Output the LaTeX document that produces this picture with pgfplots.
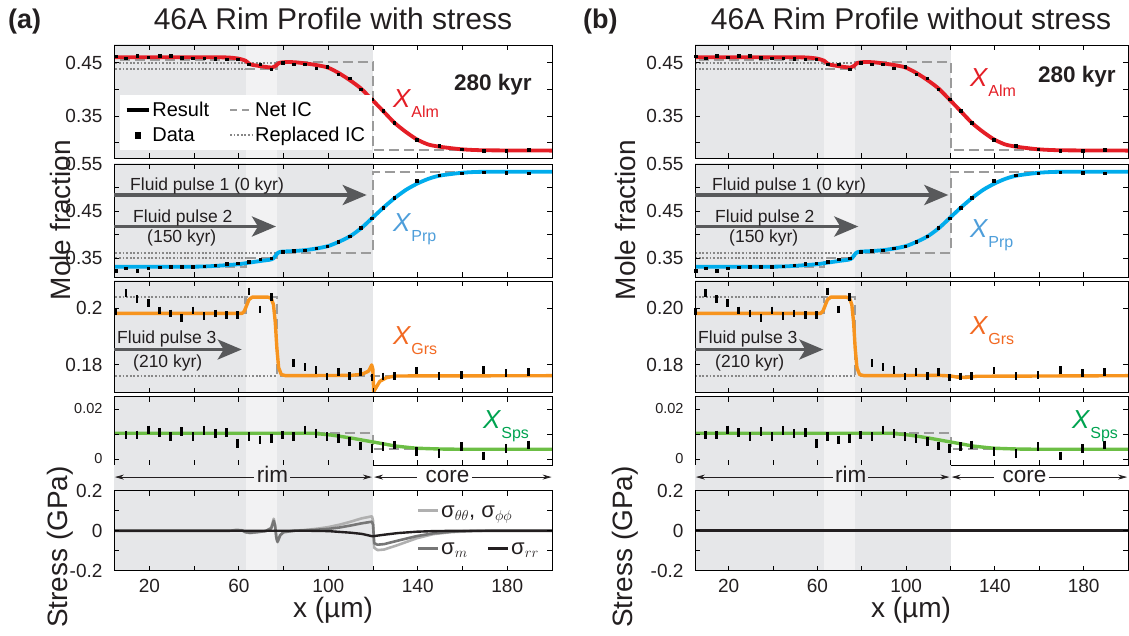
\documentclass[border=0pt]{standalone}
\usepackage{fontspec}
\setmainfont{Liberation Sans}
\usepackage{pgfplots}
\pgfplotsset{compat=1.18}
\usepackage{pgfplotstable}
\usetikzlibrary{arrows.meta}

\definecolor{almred}{RGB}{228,30,38}
\definecolor{prpcyan}{RGB}{0,172,236}
\definecolor{prplab}{RGB}{78,158,218}
\definecolor{grsorange}{RGB}{247,148,30}
\definecolor{grslab}{RGB}{242,105,34}
\definecolor{spsgreen}{RGB}{108,190,69}
\definecolor{spslab}{RGB}{0,163,80}
\definecolor{shA}{RGB}{230,231,233}
\definecolor{shB}{RGB}{242,242,243}
\definecolor{icgray}{RGB}{155,155,155}
\definecolor{dotgray}{RGB}{135,135,135}
\definecolor{arrowgray}{RGB}{88,89,91}
\definecolor{sthth}{RGB}{176,176,176}
\definecolor{smm}{RGB}{118,118,118}
\definecolor{txt}{RGB}{35,31,32}

\newcommand{\fTick}{\fontsize{19}{21}\selectfont}
\newcommand{\fSmall}{\fontsize{14.5}{16}\selectfont}
\newcommand{\fLab}{\fontsize{28}{30}\selectfont}
\newcommand{\fTitle}{\fontsize{30}{32}\selectfont}
\newcommand{\fLeg}{\fontsize{20}{22}\selectfont}
\newcommand{\fPulse}{\fontsize{17.5}{19}\selectfont}
\newcommand{\fRim}{\fontsize{22.5}{24}\selectfont}
\newcommand{\fKyr}{\fontsize{22.5}{24}\selectfont\bfseries}
\newcommand{\fSig}{\fontsize{22}{24}\selectfont}
\newcommand{\Xl}[2]{\textcolor{#1}{\fontsize{26}{28}\selectfont\textit{X}\raisebox{-10pt}{\fontsize{16}{18}\selectfont #2}}}

% ---------------- data ----------------
\pgfplotstableread{
x y
5 0.4620
9.5 0.4581
14.5 0.4631
19.5 0.4600
24.5 0.4625
29.5 0.4625
34.5 0.4594
39.5 0.4581
44.5 0.4581
49.5 0.4569
54.5 0.4562
59.5 0.4565
64.5 0.4475
69.5 0.4475
74.5 0.4381
79.5 0.4500
84.5 0.4475
89.5 0.4469
94.5 0.4394
99.5 0.4425
104.5 0.4282
109.5 0.4207
114.5 0.4001
119.5 0.3814
124.5 0.3595
129.5 0.3377
139.5 0.3052
149.5 0.2940
159.5 0.2878
169.5 0.2853
179.5 0.2853
189.5 0.2865
}\almdata

\pgfplotstableread{
x y
4 0.4600
50 0.4600
56 0.4595
60 0.4575
63 0.4537
65 0.4470
68 0.4445
72 0.4420
75 0.4410
76.5 0.4440
78 0.4495
81 0.4512
85 0.4508
89 0.4490
94 0.4460
99.5 0.4413
104.5 0.4310
109.5 0.4176
114.5 0.4020
119.5 0.3810
124.5 0.3595
129.5 0.3377
134.5 0.3208
139.5 0.3065
144.5 0.2970
149.5 0.2927
159.5 0.2878
170 0.2859
200 0.2853
}\almcurve

\pgfplotstableread{
x y
5 0.3240
9.5 0.3287
14.5 0.3238
19.5 0.3287
24.5 0.3308
29.5 0.3322
34.5 0.3322
39.5 0.3322
44.5 0.3336
49.5 0.3357
54.5 0.3379
59.5 0.3393
64.5 0.3428
69.5 0.3478
74.5 0.3499
79.5 0.3641
84.5 0.3655
89.5 0.3669
94.5 0.3711
99.5 0.3754
104.5 0.3853
109.5 0.3966
114.5 0.4150
119.5 0.4348
124.5 0.4574
129.5 0.4786
139.5 0.5147
149.5 0.5259
159.5 0.5309
169.5 0.5330
179.5 0.5316
189.5 0.5301
}\prpdata

\pgfplotstableread{
x y
4 0.3322
40 0.3322
50 0.3340
60 0.3375
65 0.3410
70 0.3445
74 0.3470
75.5 0.3500
76.5 0.3560
77.5 0.3615
79 0.3640
85 0.3655
90 0.3675
95 0.3710
100 0.3760
105 0.3855
110 0.3975
115 0.4150
120 0.4370
125 0.4590
130 0.4790
135 0.4960
140 0.5090
145 0.5190
150 0.5255
160 0.5315
170 0.5335
200 0.5337
}\prpcurve

\pgfplotstableread{
x y
5 0.1988
9.5 0.2053
14.5 0.2033
19.5 0.2018
24.5 0.1992
29.5 0.1982
34.5 0.1965
39.5 0.1992
44.5 0.1973
49.5 0.1982
54.5 0.1976
59.5 0.1976
64.5 0.2059
69.5 0.1996
74.5 0.2039
84.5 0.1806
89.5 0.1792
94.5 0.1782
99.5 0.1759
104.5 0.1776
109.5 0.1761
114.5 0.1776
119.5 0.1756
124.5 0.1759
129.5 0.1761
139.5 0.1780
149.5 0.1761
159.5 0.1765
169.5 0.1782
179.5 0.1771
189.5 0.1774
}\grsdata

\pgfplotstableread{
x y
4 0.1982
61.5 0.1982
62.5 0.1990
63.5 0.2010
64.5 0.2030
66 0.2039
73 0.2039
74.5 0.2035
75.5 0.2012
76.3 0.1950
77 0.1860
77.8 0.1790
79 0.1766
81 0.1762
110 0.1763
115 0.1767
118 0.1778
119.4 0.1800
119.9 0.1785
120.3 0.1706
121.5 0.1722
123 0.1742
126 0.1755
130 0.1761
200 0.1762
}\grscurveA

\pgfplotstableread{
x y
4 0.1982
61.5 0.1982
62.5 0.1990
63.5 0.2010
64.5 0.2030
66 0.2039
73 0.2039
74.5 0.2035
75.5 0.2012
76.3 0.1950
77 0.1860
77.8 0.1790
79 0.1766
81 0.1762
115 0.1763
120 0.1761
123 0.1757
127 0.1756
132 0.1760
200 0.1762
}\grscurveB

\pgfplotstableread{
x y
9.5 0.0096
14.5 0.0096
19.5 0.0116
24.5 0.0105
29.5 0.0089
34.5 0.0109
39.5 0.0089
44.5 0.0113
49.5 0.0103
54.5 0.0105
59.5 0.0063
64.5 0.0089
69.5 0.0076
74.5 0.0083
79.5 0.0096
84.5 0.0089
89.5 0.0116
94.5 0.0103
99.5 0.0089
104.5 0.0083
109.5 0.0069
114.5 0.0052
119.5 0.0043
124.5 0.0049
129.5 0.0056
139.5 0.0029
149.5 0.0023
159.5 0.0049
169.5 0.0012
179.5 0.0043
189.5 0.0056
}\spsdata

\pgfplotstableread{
x y
4 0.0103
90 0.0103
95 0.0101
100 0.0097
105 0.0091
110 0.0084
115 0.0076
120 0.0068
125 0.0060
130 0.0052
135 0.0047
140 0.0043
150 0.0040
160 0.0039
200 0.0039
}\spscurve

\pgfplotstableread{
x y
4 0
56 0
59 0.004
61.5 0.002
63 -0.008
65 -0.012
68 -0.008
72 -0.002
74.5 0.015
75.6 0.060
76.2 0.030
76.8 -0.040
77.3 -0.058
78.5 -0.025
80 -0.008
85 0
90 0.004
95 0.010
100 0.018
105 0.030
110 0.045
115 0.062
119.5 0.072
120 0.050
120.5 -0.085
122 -0.097
125 -0.094
131 -0.072
139.5 -0.038
147 -0.017
155 -0.007
165 -0.002
175 0
200 0
}\sigtt

\pgfplotstableread{
x y
4 0
56 0
59 0.003
61.5 0.001
63 -0.007
65 -0.010
68 -0.007
72 -0.002
74.5 0.012
75.6 0.050
76.2 0.025
76.8 -0.035
77.3 -0.055
78.5 -0.022
80 -0.007
85 0
90 0.002
95 0.005
100 0.009
105 0.016
110 0.026
115 0.037
119.5 0.045
120 0.030
120.5 -0.062
122 -0.070
125 -0.067
131 -0.050
139.5 -0.027
147 -0.013
155 -0.005
165 -0.001
175 0
200 0
}\sigm

\pgfplotstableread{
x y
4 0
90 0
95 -0.001
100 -0.002
105 -0.006
110 -0.010
115 -0.016
119.8 -0.028
121 -0.026
125 -0.020
131 -0.012
139.5 -0.005
147 -0.002
160 0
200 0
}\sigrr

\pgfplotsset{
  base/.style={scale only axis, anchor=south west, axis on top, xmax=200,
    xtick={20,40,...,180}, xticklabels={},
    scaled y ticks=false, scaled x ticks=false,
    tick align=inside, major tick length=5pt,
    tick style={black, line width=0.9pt},
    axis line style={black, line width=0.9pt},
    ticklabel style={font=\fTick, text=txt},
    yticklabel style={xshift=-8pt},
    xticklabel style={yshift=-5pt},
    clip=true},
  L/.style={base, xmin=4.2, width=438pt},
  R/.style={base, xmin=4.8, width=433pt},
  netic/.style={icgray, line width=2.1pt, dash pattern=on 10pt off 5pt, forget plot},
  repl/.style={dotgray, line width=2pt, dash pattern=on 1.8pt off 1.8pt, forget plot},
  dataS/.style={only marks, mark=square*, mark size=1.3pt, black, forget plot},
  dataV/.style={only marks, mark=|, mark size=3.8pt, mark options={line width=2.6pt}, black, forget plot},
  res/.style={line width=3.8pt, line join=round, forget plot},
}

\newcommand{\bgshade}{%
  \fill[shA] (axis cs:0,-1) rectangle (axis cs:120,1);
  \fill[shB] (axis cs:63,-1) rectangle (axis cs:77,1);}

\begin{document}
\begin{tikzpicture}
\useasboundingbox (0,0) rectangle (1129pt,635pt);

% =============== LEFT PANEL (a) ===============
\begin{axis}[L, at={(114pt,476.7pt)}, height=113.3pt, ymin=0.2709, ymax=0.4831,
  ytick={0.30,0.35,0.40,0.45}, yticklabels={,0.35,,0.45},
  legend style={at={(0.013,0.07)}, anchor=south west, draw=none, fill=white, font=\fLeg,
    inner xsep=5pt, inner ysep=5pt, row sep=5pt, /tikz/every even column/.append style={column sep=18pt}},
  legend columns=2, legend cell align=left,
  legend image code/.code={\draw[mark repeat=2,mark phase=2,#1] plot coordinates {(0pt,0pt) (11pt,0pt) (22pt,0pt)};}]
\bgshade
\addlegendimage{black, line width=3.5pt}\addlegendentry{Result}
\addlegendimage{icgray, line width=2pt, dash pattern=on 7pt off 5pt}\addlegendentry{Net IC}
\addlegendimage{only marks, mark=square*, mark size=2.8pt, black}\addlegendentry{Data}
\addlegendimage{dotgray, line width=2pt, dash pattern=on 1.8pt off 1.8pt}\addlegendentry{Replaced IC}
\addplot[repl] coordinates {(0,0.450) (77,0.450)};
\addplot[repl] coordinates {(0,0.4376) (63,0.4376)};
\addplot[netic] coordinates {(0,0.455) (63,0.455) (63,0.4376) (77,0.4376) (77,0.452) (120,0.452) (120,0.2866) (200,0.2866)};
\addplot[res, almred, smooth, tension=0.4] table {\almcurve};
\addplot[dataS] table {\almdata};
\end{axis}

\begin{axis}[L, at={(114pt,358pt)}, height=113pt, ymin=0.3103, ymax=0.55,
  ytick={0.35,0.40,0.45,0.50,0.55}, yticklabels={0.35,,0.45,,0.55}]
\bgshade
\addplot[repl] coordinates {(0,0.3620) (77,0.3620)};
\addplot[repl] coordinates {(0,0.3503) (63,0.3503)};
\addplot[netic] coordinates {(0,0.3322) (63,0.3322) (63,0.3503) (77,0.3503) (77,0.3620) (120,0.3620) (120,0.5337) (200,0.5337)};
\addplot[res, prpcyan, smooth, tension=0.4] table {\prpcurve};
\addplot[dataS] table {\prpdata};
\end{axis}

\begin{axis}[L, at={(114pt,242.3pt)}, height=111.7pt, ymin=0.1702, ymax=0.2096,
  ytick={0.18,0.20}, yticklabels={0.18,0.2}]
\bgshade
\addplot[repl] coordinates {(0,0.2039) (63,0.2039)};
\addplot[repl] coordinates {(0,0.1762) (77,0.1762)};
\addplot[netic] coordinates {(0,0.1982) (63,0.1982) (63,0.2039) (77,0.2039) (77,0.1762) (200,0.1762)};
\addplot[res, grsorange, line width=3.4pt] table {\grscurveA};
\addplot[dataV] table {\grsdata};
\end{axis}

\begin{axis}[L, at={(114pt,170pt)}, height=68.3pt, ymin=-0.0024, ymax=0.0249,
  ytick={0,0.01,0.02}, yticklabels={0,,0.02}, yticklabel style={font=\fSmall}]
\bgshade
\addplot[netic] coordinates {(0,0.0103) (120,0.0103) (120,0.0039) (200,0.0039)};
\addplot[dataV, mark size=4.4pt] table {\spsdata};
\addplot[res, spsgreen, line width=3.4pt, smooth, tension=0.4] table {\spscurve};
\end{axis}

\begin{axis}[L, at={(114pt,144.3pt)}, height=25.7pt, ymin=0, ymax=1, hide axis, clip=false]
\fill[shA] (axis cs:4.2,0) rectangle (axis cs:120,1);
\fill[shB] (axis cs:63,0) rectangle (axis cs:77,1);
\draw[line width=0.8pt, txt, {Stealth[length=9pt,width=5pt]}-] (axis cs:4.6,0.53) -- (axis cs:66.8,0.53);
\draw[line width=0.8pt, txt, -{Stealth[length=9pt,width=5pt]}] (axis cs:82.9,0.53) -- (axis cs:119.5,0.53);
\draw[line width=0.8pt, txt, {Stealth[length=9pt,width=5pt]}-] (axis cs:120.5,0.53) -- (axis cs:139.8,0.53);
\draw[line width=0.8pt, txt, -{Stealth[length=9pt,width=5pt]}] (axis cs:164.3,0.53) -- (axis cs:199.8,0.53);
\node[font=\fRim, text=txt, anchor=base, inner sep=0pt] at (axis cs:75,0.30) {rim};
\node[font=\fRim, text=txt, anchor=base, inner sep=0pt] at (axis cs:153.3,0.30) {core};
\end{axis}

\begin{axis}[L, at={(114pt,64.3pt)}, height=80pt, ymin=-0.2, ymax=0.2,
  ytick={-0.2,-0.1,0,0.1,0.2}, yticklabels={-0.2,,0,,0.2},
  xticklabels={20,,60,,100,,140,,180}]
\bgshade
\addplot[forget plot, sthth, line width=2.6pt, line join=round] table {\sigtt};
\addplot[forget plot, smm, line width=2.6pt, line join=round] table {\sigm};
\addplot[forget plot, txt, line width=2.4pt, line join=round] table {\sigrr};
\end{axis}

% =============== RIGHT PANEL (b) ===============
\begin{axis}[R, at={(695pt,476.7pt)}, height=113.3pt, ymin=0.2709, ymax=0.4831,
  ytick={0.30,0.35,0.40,0.45}, yticklabels={,0.35,,0.45}]
\bgshade
\addplot[repl] coordinates {(0,0.450) (77,0.450)};
\addplot[repl] coordinates {(0,0.4376) (63,0.4376)};
\addplot[netic] coordinates {(0,0.455) (63,0.455) (63,0.4376) (77,0.4376) (77,0.452) (120,0.452) (120,0.2866) (200,0.2866)};
\addplot[res, almred, smooth, tension=0.4] table {\almcurve};
\addplot[dataS] table {\almdata};
\end{axis}

\begin{axis}[R, at={(695pt,358pt)}, height=113pt, ymin=0.3103, ymax=0.55,
  ytick={0.35,0.40,0.45,0.50,0.55}, yticklabels={0.35,,0.45,,0.55}]
\bgshade
\addplot[repl] coordinates {(0,0.3620) (77,0.3620)};
\addplot[repl] coordinates {(0,0.3503) (63,0.3503)};
\addplot[netic] coordinates {(0,0.3322) (63,0.3322) (63,0.3503) (77,0.3503) (77,0.3620) (120,0.3620) (120,0.5337) (200,0.5337)};
\addplot[res, prpcyan, smooth, tension=0.4] table {\prpcurve};
\addplot[dataS] table {\prpdata};
\end{axis}

\begin{axis}[R, at={(695pt,242.3pt)}, height=111.7pt, ymin=0.1702, ymax=0.2096,
  ytick={0.18,0.20}, yticklabels={0.18,0.20}]
\bgshade
\addplot[repl] coordinates {(0,0.2039) (63,0.2039)};
\addplot[repl] coordinates {(0,0.1762) (77,0.1762)};
\addplot[netic] coordinates {(0,0.1982) (63,0.1982) (63,0.2039) (77,0.2039) (77,0.1762) (200,0.1762)};
\addplot[res, grsorange, line width=3.4pt] table {\grscurveB};
\addplot[dataV] table {\grsdata};
\end{axis}

\begin{axis}[R, at={(695pt,170pt)}, height=68.3pt, ymin=-0.0024, ymax=0.0249,
  ytick={0,0.01,0.02}, yticklabels={0,,0.02}, yticklabel style={font=\fSmall}]
\bgshade
\addplot[netic] coordinates {(0,0.0103) (120,0.0103) (120,0.0039) (200,0.0039)};
\addplot[dataV, mark size=4.4pt] table {\spsdata};
\addplot[res, spsgreen, line width=3.4pt, smooth, tension=0.4] table {\spscurve};
\end{axis}

\begin{axis}[R, at={(695pt,144.3pt)}, height=25.7pt, ymin=0, ymax=1, hide axis, clip=false]
\fill[shA] (axis cs:4.8,0) rectangle (axis cs:120,1);
\fill[shB] (axis cs:63,0) rectangle (axis cs:77,1);
\draw[line width=0.8pt, txt, {Stealth[length=9pt,width=5pt]}-] (axis cs:5.2,0.53) -- (axis cs:66.8,0.53);
\draw[line width=0.8pt, txt, -{Stealth[length=9pt,width=5pt]}] (axis cs:82.9,0.53) -- (axis cs:119.5,0.53);
\draw[line width=0.8pt, txt, {Stealth[length=9pt,width=5pt]}-] (axis cs:120.5,0.53) -- (axis cs:139.8,0.53);
\draw[line width=0.8pt, txt, -{Stealth[length=9pt,width=5pt]}] (axis cs:164.3,0.53) -- (axis cs:199.6,0.53);
\node[font=\fRim, text=txt, anchor=base, inner sep=0pt] at (axis cs:75,0.30) {rim};
\node[font=\fRim, text=txt, anchor=base, inner sep=0pt] at (axis cs:153.3,0.30) {core};
\end{axis}

\begin{axis}[R, at={(695pt,64.3pt)}, height=80pt, ymin=-0.2, ymax=0.2,
  ytick={-0.2,-0.1,0,0.1,0.2}, yticklabels={-0.2,,0,,0.2},
  xticklabels={20,,60,,100,,140,,180}]
\bgshade
\addplot[forget plot, sthth, line width=2.6pt] coordinates {(0,0) (200,0)};
\addplot[forget plot, smm, line width=2.6pt] coordinates {(0,0) (200,0)};
\addplot[forget plot, txt, line width=2.6pt] coordinates {(0,0) (200,0)};
\end{axis}

% =============== annotations ===============
\node[font=\fTitle, text=txt, anchor=base] at (333pt,605pt) {46A Rim Profile with stress};
\node[font=\fTitle, text=txt, anchor=base] at (911pt,605pt) {46A Rim Profile without stress};
\node[font=\fontsize{27}{29}\selectfont\bfseries, text=txt, anchor=base west, inner sep=0pt] at (8pt,606pt) {(a)};
\node[font=\fontsize{27}{29}\selectfont\bfseries, text=txt, anchor=base west, inner sep=0pt] at (583pt,606pt) {(b)};

\foreach \xx in {60,625} {
  \node[font=\fLab, text=txt, rotate=90] at (\xx pt,415pt) {Mole fraction};
  \node[font=\fLab, text=txt, rotate=90] at (\xx pt,88pt) {Stress (GPa)};
}
\node[font=\fLab, text=txt, anchor=base] at (333pt,18pt) {x (µm)};
\node[font=\fLab, text=txt, anchor=base] at (911pt,18pt) {x (µm)};

% component labels
\node[anchor=base west, inner sep=0pt] at (393pt,527pt) {\Xl{almred}{Alm}};
\node[anchor=base west, inner sep=0pt] at (393pt,403pt) {\Xl{prplab}{Prp}};
\node[anchor=base west, inner sep=0pt] at (393pt,290pt) {\Xl{grslab}{Grs}};
\node[anchor=base west, inner sep=0pt] at (483pt,207pt) {\Xl{spslab}{Sps}};
\node[anchor=base west, inner sep=0pt] at (970pt,548pt) {\Xl{almred}{Alm}};
\node[anchor=base west, inner sep=0pt] at (970pt,397pt) {\Xl{prplab}{Prp}};
\node[anchor=base west, inner sep=0pt] at (970pt,300pt) {\Xl{grslab}{Grs}};
\node[anchor=base west, inner sep=0pt] at (1072pt,207pt) {\Xl{spslab}{Sps}};

\node[font=\fKyr, text=txt, anchor=base west, inner sep=0pt] at (454pt,544pt) {280 kyr};
\node[font=\fKyr, text=txt, anchor=base west, inner sep=0pt] at (1038pt,552pt) {280 kyr};

% fluid pulses
\foreach \ox/\tipa/\tipb/\tipc in {114/366.7/276/241.7, 695/948.3/858.3/823.3} {
  \draw[arrowgray, line width=3.5pt, -{Stealth[length=24pt,width=20pt,inset=6pt]}] (\ox pt,440pt) -- (\tipa pt,440pt);
  \draw[arrowgray, line width=3.5pt, -{Stealth[length=24pt,width=20pt,inset=6pt]}] (\ox pt,408.5pt) -- (\tipb pt,408.5pt);
  \draw[arrowgray, line width=3.5pt, -{Stealth[length=24pt,width=20pt,inset=6pt]}] (\ox pt,285.5pt) -- (\tipc pt,285.5pt);
}
\node[font=\fPulse, text=txt, anchor=base west, inner sep=0pt] at (130pt,444pt) {Fluid pulse 1 (0 kyr)};
\node[font=\fPulse, text=txt, anchor=base west, inner sep=0pt] at (133pt,412pt) {Fluid pulse 2};
\node[font=\fPulse, text=txt, anchor=base west, inner sep=0pt] at (147pt,392pt) {(150 kyr)};
\node[font=\fPulse, text=txt, anchor=base west, inner sep=0pt] at (117pt,291pt) {Fluid pulse 3};
\node[font=\fPulse, text=txt, anchor=base west, inner sep=0pt] at (133pt,267pt) {(210 kyr)};
\node[font=\fPulse, text=txt, anchor=base west, inner sep=0pt] at (712pt,444pt) {Fluid pulse 1 (0 kyr)};
\node[font=\fPulse, text=txt, anchor=base west, inner sep=0pt] at (715pt,412pt) {Fluid pulse 2};
\node[font=\fPulse, text=txt, anchor=base west, inner sep=0pt] at (729pt,392pt) {(150 kyr)};
\node[font=\fPulse, text=txt, anchor=base west, inner sep=0pt] at (698pt,291pt) {Fluid pulse 3};
\node[font=\fPulse, text=txt, anchor=base west, inner sep=0pt] at (715pt,267pt) {(210 kyr)};

% stress legend (a)
\draw[sthth, line width=3pt] (418pt,124.3pt) -- (438pt,124.3pt);
\node[font=\fSig, text=txt, anchor=base west, inner sep=0pt] at (441pt,118pt) {σ$_{\theta\theta}$, σ$_{\phi\phi}$};
\draw[smm, line width=3pt] (418pt,86.7pt) -- (438pt,86.7pt);
\node[font=\fSig, text=txt, anchor=base west, inner sep=0pt] at (441pt,80.5pt) {σ$_{m}$};
\draw[txt, line width=3pt] (488pt,86.7pt) -- (508pt,86.7pt);
\node[font=\fSig, text=txt, anchor=base west, inner sep=0pt] at (511pt,80.5pt) {σ$_{rr}$};

\end{tikzpicture}
\end{document}
